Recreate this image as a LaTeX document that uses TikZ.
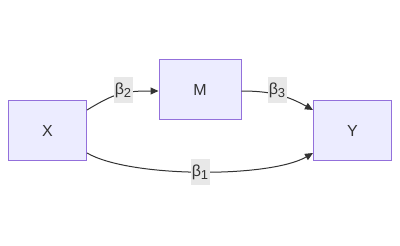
\documentclass[tikz,border=0pt]{standalone}
\usepackage{fontspec}
\setmainfont{Liberation Sans}
\usetikzlibrary{arrows.meta}
\definecolor{boxfill}{HTML}{ECECFF}
\definecolor{boxline}{HTML}{9370DB}
\definecolor{ink}{HTML}{333333}
\definecolor{lblbg}{HTML}{E8E8E8}
\newcommand{\bsub}[1]{\raisebox{-0.35ex}{\fontsize{13}{13}\selectfont #1}}
\begin{document}
\begin{tikzpicture}[x=1pt,y=-1pt,
  vbox/.style={draw=boxline, fill=boxfill, line width=1pt, minimum width=78pt, minimum height=60pt, inner sep=0pt, text=ink, font=\fontsize{16}{16}\selectfont},
  conn/.style={draw=ink, line width=1pt, -{Triangle[length=8pt,width=7pt]}},
  lbl/.style={fill=lblbg, inner sep=0pt, minimum height=26pt, minimum width=19pt, text=ink, font=\fontsize{16}{16}\selectfont}]
\useasboundingbox (0,0) rectangle (400,246);
\node[vbox] (X) at (47.5,131) {X};
\node[vbox, minimum width=82pt] (M) at (200,90) {M};
\node[vbox] (Y) at (352.5,131) {Y};
\draw[conn] ([yshift=21pt]X.east) .. controls +(28,-17) and +(-35,0) .. ([yshift=-1pt]M.west);
\draw[conn] ([yshift=-1pt]M.east) .. controls +(30,0) and +(-25,-14) .. ([yshift=21pt]Y.west);
\draw[conn] ([yshift=-22pt]X.east) .. controls +(43,25) and +(-43,25) .. ([yshift=-22pt]Y.west);
\node[lbl] (b2) at (123,90) {β\bsub{2}};
\node[lbl] (b3) at (277,90) {β\bsub{3}};
\node[lbl] (b1) at (200,172) {β\bsub{1}};
\end{tikzpicture}
\end{document}
